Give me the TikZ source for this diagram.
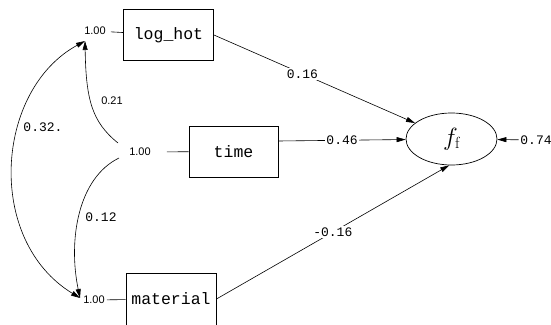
\documentclass[tikz,border=0pt]{standalone}
\usepackage{fontspec}
\setmonofont{Liberation Mono}
\setsansfont{Liberation Sans}
\usetikzlibrary{arrows.meta,shapes.geometric}
\begin{document}
\begin{tikzpicture}[x=1pt,y=-1pt,
  box/.style={draw, line width=0.9pt, inner sep=2pt, font=\fontsize{16.5}{16.5}\ttfamily},
  latent/.style={draw, ellipse, line width=0.7pt, minimum width=91pt, minimum height=52pt, inner sep=0pt, font=\fontsize{23}{23}\selectfont},
  var/.style={font=\fontsize{11}{11}\sffamily, inner sep=2pt},
  coef/.style={font=\fontsize{13}{13}\ttfamily, inner sep=1.5pt},
  lab/.style={coef, fill=white},
  lin/.style={line width=0.6pt},
  arr/.style={lin, -{Triangle[length=9pt,width=5pt]}},
  arrb/.style={lin, {Triangle[length=9pt,width=5pt]}-{Triangle[length=9pt,width=5pt]}}
]
\useasboundingbox (0,0) rectangle (551,324);
\clip (0,0) rectangle (551,324);
% observed variables
\node[box, minimum width=90pt, minimum height=51pt] (loghot) at (168.5,35) {log\_hot};
\node[box, minimum width=89pt, minimum height=51pt] (time) at (233.5,151.5) {time};
\node[box, minimum width=90pt, minimum height=52pt] (material) at (171,299) {material};
% latent
\node[latent] (ff) at (451.5,139) {$f_{\mathrm{f}}$};
% variances
\node[var] (v1) at (95,31) {1.00};
\node[var] (v2) at (140,152) {1.00};
\node[var] (v3) at (94,300) {1.00};
\node[coef] (e) at (536,140) {0.74};
% covariance end points
\coordinate (t1) at (85,41);
\coordinate (t3) at (80,298);
\coordinate (s21) at (118,143);
\coordinate (s12) at (119,158);
% variance ticks
\draw[lin, shorten <=3pt] (v1) -- (loghot);
\draw[lin, shorten <=14pt] (v2) -- (time);
\draw[lin] (v3) -- (material);
% paths
\draw[arr] (loghot.east) -- node[lab, pos=0.44] {0.16} (ff);
\draw[arr] ([yshift=10.5pt]time.east) -- node[lab, pos=0.5] {0.46} (ff);
\draw[arr] (material.east) -- node[lab, pos=0.5] {-0.16} (ff.265);
\draw[arr] (e) -- (ff);
% covariances
\draw[arrb] (t1) .. controls (-5,90) and (-15,240) .. (t3);
\node[coef] (c32) at (43,127) {0.32.};
\draw[arr] (s21) .. controls (92,122) and (86,100) .. (t1);
\node[var] (c21) at (112,101) {0.21};
\draw[arr] (s12) .. controls (78,178) and (68,240) .. (t3);
\node[coef] (c12) at (101,217) {0.12};
\end{tikzpicture}
\end{document}
